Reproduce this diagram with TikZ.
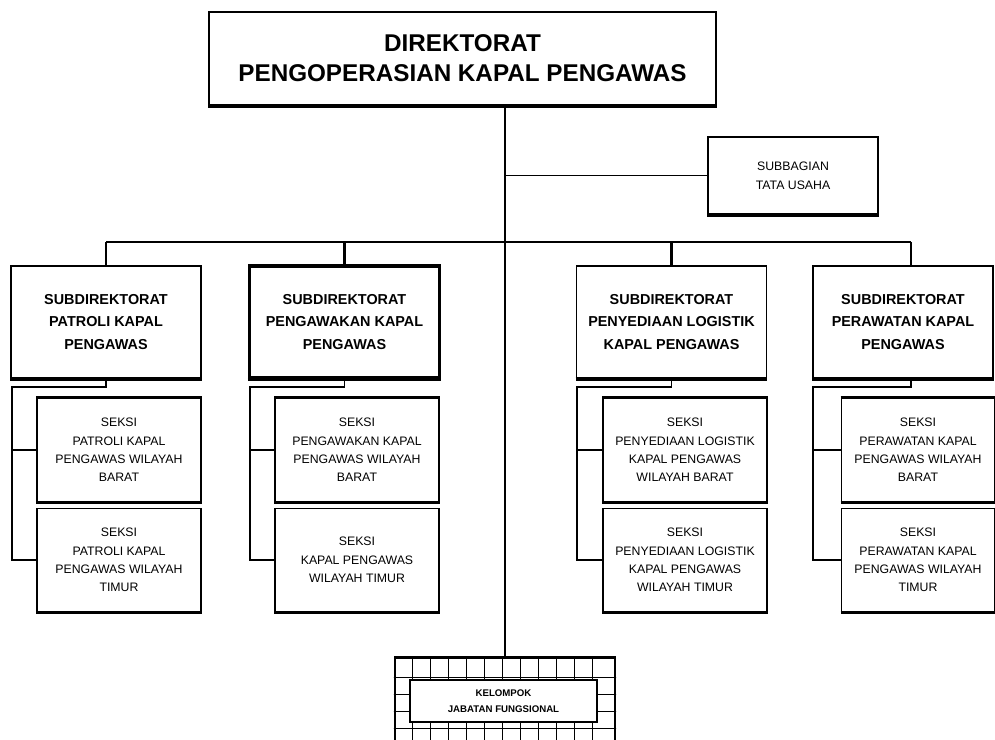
\documentclass[tikz,border=0pt]{standalone}
\usepackage{fontspec}
\setsansfont{Liberation Sans}
\usetikzlibrary{positioning}

\begin{document}
\begin{tikzpicture}[
  x=0.02cm, y=-0.02cm,
  box/.style={draw, line width=1.1pt, fill=white, align=center, inner sep=0pt},
  topbox/.style={box, minimum width=10.14cm, minimum height=1.86cm,
    font=\sffamily\bfseries\fontsize{13.8}{17}\selectfont},
  subbox/.style={box, minimum width=3.8cm, minimum height=2.24cm,
    font=\sffamily\bfseries\fontsize{8.2}{13}\selectfont},
  seksibox/.style={box, minimum width=3.28cm, minimum height=2.06cm,
    font=\sffamily\fontsize{7}{10.5}\selectfont},
  tubox/.style={box, minimum width=3.4cm, minimum height=1.54cm,
    font=\sffamily\fontsize{7}{11}\selectfont},
  line/.style={draw=black, line width=1.1pt},
  busline/.style={draw=black, line width=1.6pt},
  heavyedge/.style={draw=black, line width=2pt},
  gridline/.style={draw=black, line width=0.5pt}
]
  \useasboundingbox (0,0) rectangle (995,740);

  \node[topbox] (dir) at (462.5,58.5) {DIREKTORAT\\PENGOPERASIAN KAPAL PENGAWAS};
  \node[tubox] (tu) at (793,175.5) {SUBBAGIAN\\TATA USAHA};

  \node[subbox] (sd1) at (106,322) {SUBDIREKTORAT\\PATROLI KAPAL\\PENGAWAS};
  \node[subbox, line width=1.8pt] (sd2) at (344.5,322) {SUBDIREKTORAT\\PENGAWAKAN KAPAL\\PENGAWAS};
  \node[subbox] (sd3) at (671.5,322) {SUBDIREKTORAT\\PENYEDIAAN LOGISTIK\\KAPAL PENGAWAS};
  \node[subbox, minimum width=3.6cm] (sd4) at (903,322) {SUBDIREKTORAT\\PERAWATAN KAPAL\\PENGAWAS};

  \node[seksibox] (s1a) at (119,450) {SEKSI\\PATROLI KAPAL\\PENGAWAS WILAYAH\\BARAT};
  \node[seksibox] (s1b) at (119,560) {SEKSI\\PATROLI KAPAL\\PENGAWAS WILAYAH\\TIMUR};
  \node[seksibox] (s2a) at (357,450) {SEKSI\\PENGAWAKAN KAPAL\\PENGAWAS WILAYAH\\BARAT};
  \node[seksibox] (s2b) at (357,560) {SEKSI\\KAPAL PENGAWAS\\WILAYAH TIMUR};
  \node[seksibox] (s3a) at (685,450) {SEKSI\\PENYEDIAAN LOGISTIK\\KAPAL PENGAWAS\\WILAYAH BARAT};
  \node[seksibox] (s3b) at (685,560) {SEKSI\\PENYEDIAAN LOGISTIK\\KAPAL PENGAWAS\\WILAYAH TIMUR};
  \node[seksibox, minimum width=3.06cm] (s4a) at (918,450) {SEKSI\\PERAWATAN KAPAL\\PENGAWAS WILAYAH\\BARAT};
  \node[seksibox, minimum width=3.06cm] (s4b) at (918,560) {SEKSI\\PERAWATAN KAPAL\\PENGAWAS WILAYAH\\TIMUR};

  % Heavier lower edges of the boxes.
  \foreach \n in {dir,tu,sd1,sd2,sd3,sd4,s1a,s1b,s2a,s2b,s3a,s3b,s4a,s4b}
    \draw[heavyedge] (\n.south west) -- (\n.south east);
  \foreach \n in {s1a,s2a,s3a,s4a}
    \draw[heavyedge] (\n.north west) -- (\n.north east);

  % Kelompok jabatan fungsional with its grid frame.
  \node[draw, line width=1.4pt, minimum width=4.4cm, minimum height=1.9cm] (kel) at (505,705) {};
  \begin{scope}
    \clip (kel.south west) rectangle (kel.north east);
    \foreach \gx in {412,430,448,466,484,502,520,538,556,574,592}
      \draw[gridline] (\gx,650) -- (\gx,760);
    \foreach \gy in {677,694,711,728}
      \draw[gridline] (380,\gy) -- (630,\gy);
  \end{scope}
  \node[draw, line width=1.6pt, fill=white, minimum width=3.74cm, minimum height=0.84cm,
    align=center, inner sep=0pt, font=\sffamily\bfseries\fontsize{5.5}{9}\selectfont]
    (kelin) at (503.5,701) {KELOMPOK\\JABATAN FUNGSIONAL};

  % Trunk and staff unit.
  \draw[line] (dir.south -| kel.north) -- (kel.north);
  \draw[line] (tu.west -| kel.north) -- (tu.west);

  % Bus to the subdirectorates.
  \coordinate (busL) at (106,242);
  \coordinate (busR) at (911,242);
  \draw[busline] (busL) -- (busR);
  \draw[busline] (busL) -- (sd1.north);
  \draw[busline] (sd2.north |- busL) -- (sd2.north);
  \draw[busline] (sd3.north |- busL) -- (sd3.north);
  \draw[busline] (busR) -- (busR |- sd4.north);

  % Seksi under each subdirectorate.
  \coordinate (k1) at (12,387);
  \draw[line] (sd1.south) |- (k1) |- (s1b.west);
  \draw[line] (k1 |- s1a.west) -- (s1a.west);

  \coordinate (k2) at (250,387);
  \draw[line] (sd2.south) |- (k2) |- (s2b.west);
  \draw[line] (k2 |- s2a.west) -- (s2a.west);

  \coordinate (k3) at (577,387);
  \draw[line] (sd3.south) |- (k3) |- (s3b.west);
  \draw[line] (k3 |- s3a.west) -- (s3a.west);

  \coordinate (k4) at (813,387);
  \draw[line] (sd4.south -| busR) |- (k4) |- (s4b.west);
  \draw[line] (k4 |- s4a.west) -- (s4a.west);
\end{tikzpicture}
\end{document}
